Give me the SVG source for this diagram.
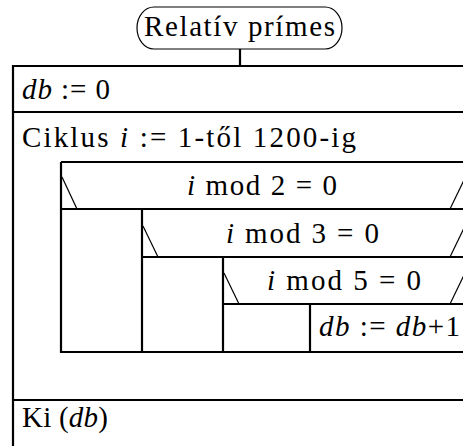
<svg xmlns="http://www.w3.org/2000/svg" width="463" height="446" viewBox="0 0 463 446" font-family="'Liberation Serif', 'Times New Roman', serif">
<style>
  text { font-family: "Liberation Serif", "Times New Roman", serif; font-size: 29px; fill: #000; }
  .m { font-style: italic; }
  .thick { stroke: #000; stroke-width: 2.2; fill: none; }
  .thin { stroke: #000; stroke-width: 1.2; fill: none; }
</style>
<rect width="463" height="446" fill="#fff"/>
<g id="title">
  <path class="thin" d="M154,7 H325 A17,21 0 0 1 325,49 H154 A17,21 0 0 1 154,7 Z"/>
  <text x="144" y="36" textLength="191" lengthAdjust="spacing">Relatív prímes</text>
</g>
<g id="connectors">
  <line class="thick" x1="240" y1="49" x2="240" y2="66"/>
</g>
<g id="outer-frame">
  <path class="thick" d="M13,446 V66 H470"/>
</g>
<g id="init">
  <line class="thick" x1="13" y1="112" x2="470" y2="112"/>
  <text x="22" y="99" textLength="88" lengthAdjust="spacing"><tspan class="m">db</tspan> := 0</text>
</g>
<g id="loop">
  <text x="22" y="147" textLength="334" lengthAdjust="spacing">Ciklus <tspan class="m">i</tspan> := 1-től 1200-ig</text>
  <path class="thick" d="M61,162 H470 M61,162 V352 H470"/>
</g>
<g id="if2">
  <line class="thick" x1="61" y1="209" x2="470" y2="209"/>
  <line class="thin" x1="62" y1="177" x2="77" y2="209"/>
  <line class="thin" x1="450" y1="209" x2="466" y2="176"/>
  <text x="187" y="195" textLength="150" lengthAdjust="spacing"><tspan class="m">i</tspan> mod 2 = 0</text>
  <line class="thick" x1="142" y1="209" x2="142" y2="352"/>
</g>
<g id="if3">
  <line class="thick" x1="142" y1="257" x2="470" y2="257"/>
  <line class="thin" x1="143" y1="226" x2="158" y2="257"/>
  <line class="thin" x1="450" y1="257" x2="466" y2="224"/>
  <text x="226" y="243" textLength="153" lengthAdjust="spacing"><tspan class="m">i</tspan> mod 3 = 0</text>
  <line class="thick" x1="223" y1="257" x2="223" y2="352"/>
</g>
<g id="if5">
  <line class="thick" x1="223" y1="304" x2="470" y2="304"/>
  <line class="thin" x1="224" y1="273" x2="239" y2="304"/>
  <line class="thin" x1="450" y1="304" x2="466" y2="271"/>
  <text x="267" y="290" textLength="154" lengthAdjust="spacing"><tspan class="m">i</tspan> mod 5 = 0</text>
  <line class="thick" x1="310" y1="304" x2="310" y2="352"/>
</g>
<g id="increment">
  <text x="319" y="336" textLength="141" lengthAdjust="spacing"><tspan class="m">db</tspan> := <tspan class="m">db</tspan>+1</text>
</g>
<g id="output">
  <line class="thick" x1="13" y1="400" x2="470" y2="400"/>
  <text x="22" y="427" textLength="86" lengthAdjust="spacing">Ki (<tspan class="m">db</tspan>)</text>
</g>
</svg>
